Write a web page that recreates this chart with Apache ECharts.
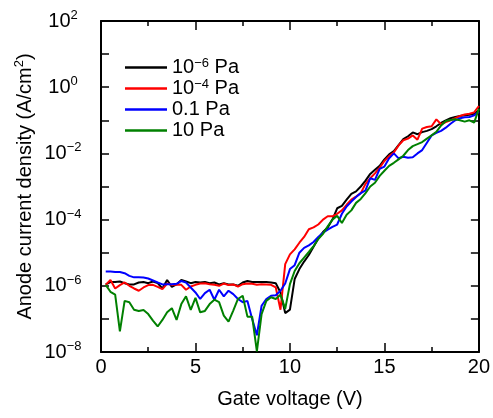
<!DOCTYPE html>
<html>
<head>
<meta charset="utf-8">
<script src="https://cdn.jsdelivr.net/npm/echarts@6/dist/echarts.min.js"></script>
<style>
  html, body { margin: 0; padding: 0; background: #fff; }
  #chart { width: 493px; height: 418px; }
</style>
</head>
<body>
<div id="chart"></div>
<script>
// gate voltage (V), shared by all curves
var voltage = [0.25, 0.5, 0.75, 1, 1.25, 1.5, 1.75, 2, 2.25, 2.5, 2.75, 3, 3.25, 3.5, 3.75, 4,
  4.25, 4.5, 4.75, 5, 5.25, 5.5, 5.75, 6, 6.25, 6.5, 6.75, 7, 7.25, 7.5, 7.75, 8,
  8.25, 8.5, 8.75, 9, 9.25, 9.5, 9.75, 10, 10.25, 10.5, 10.75, 11, 11.25, 11.5, 11.75, 12,
  12.25, 12.5, 12.75, 13, 13.25, 13.5, 13.75, 14, 14.25, 14.5, 14.75, 15, 15.25, 15.5, 15.75, 16,
  16.25, 16.5, 16.75, 17, 17.25, 17.5, 17.75, 18, 18.25, 18.5, 18.75, 19, 19.25, 19.5, 19.75, 20];

// anode current density (A/cm2)
var p1e6 = [1.1e-6, 1.3e-6, 1.3e-6, 1.35e-6, 1.2e-6, 1.1e-6, 1.1e-6, 1.26e-6, 1.3e-6, 1.2e-6, 1.35e-6, 1.2e-6, 8.3e-7, 1.5e-6, 9.3e-7, 1.1e-6,
  1.5e-6, 1.35e-6, 1.2e-6, 1.3e-6, 1.26e-6, 1.3e-6, 1.2e-6, 1.26e-6, 1.1e-6, 1.2e-6, 1.1e-6, 1.1e-6, 1.0e-6, 1.26e-6, 1.4e-6, 1.3e-6,
  1.3e-6, 1.3e-6, 1.3e-6, 1.26e-6, 1.2e-6, 6.3e-7, 1.5e-7, 1.9e-7, 1.6e-6, 3.2e-6, 5.4e-6, 8.5e-6, 1.5e-5, 2.7e-5, 4.2e-5, 5.8e-5,
  1.0e-4, 2.2e-4, 2.6e-4, 4.0e-4, 6.0e-4, 7.1e-4, 1.0e-3, 1.5e-3, 2.4e-3, 3.2e-3, 4.2e-3, 6.6e-3, 9.3e-3, 1.17e-2, 1.78e-2, 2.7e-2,
  3.3e-2, 4.3e-2, 3.8e-2, 4.4e-2, 4.8e-2, 5.4e-2, 6.6e-2, 8.3e-2, 0.1, 0.115, 0.126, 0.135, 0.141, 0.148, 0.158, 0.2];

var p1e4 = [1.07e-6, 1.5e-6, 8.3e-7, 1.05e-6, 1.26e-6, 1.0e-6, 8.3e-7, 7.1e-7, 8.9e-7, 1.05e-6, 1.07e-6, 9.3e-7, 7.9e-7, 1.17e-6, 1.07e-6, 1.1e-6,
  1.07e-6, 7.6e-7, 9.5e-7, 1.07e-6, 1.17e-6, 1.2e-6, 1.12e-6, 1.07e-6, 1.0e-6, 1.17e-6, 1.05e-6, 1.1e-6, 9.5e-7, 1.12e-6, 1.17e-6, 1.15e-6,
  1.07e-6, 1.12e-6, 1.1e-6, 1.07e-6, 8.9e-7, 1.9e-7, 4.5e-6, 8.9e-6, 1.26e-5, 2.0e-5, 3.0e-5, 5.1e-5, 5.8e-5, 7.1e-5, 1.0e-4, 1.26e-4,
  1.26e-4, 1.5e-4, 1.9e-4, 2.8e-4, 4.0e-4, 5.0e-4, 6.3e-4, 1.2e-3, 1.78e-3, 2.5e-3, 3.7e-3, 5.9e-3, 8.3e-3, 1.07e-2, 1.74e-2, 2.5e-2,
  2.8e-2, 3.5e-2, 2.6e-2, 5.6e-2, 6.3e-2, 6.6e-2, 0.107, 7.6e-2, 8.9e-2, 0.1, 0.117, 0.135, 0.15, 0.158, 0.174, 0.27];

var p01 = [2.7e-6, 2.7e-6, 2.6e-6, 2.6e-6, 2.4e-6, 2.0e-6, 1.8e-6, 1.8e-6, 1.78e-6, 1.66e-6, 1.45e-6, 1.26e-6, 1.1e-6, 1.12e-6, 1.12e-6, 1.15e-6,
  1.4e-6, 1.26e-6, 8.9e-7, 6.3e-7, 4.0e-7, 6.0e-7, 7.6e-7, 3.8e-7, 7.6e-7, 4.8e-7, 7.1e-7, 5.6e-7, 4.0e-7, 3.2e-7, 3.5e-7, 1.0e-7,
  3.2e-8, 2.5e-7, 4.0e-7, 5.0e-7, 5.2e-7, 7.1e-7, 1.17e-6, 3.2e-6, 4.2e-6, 1.0e-5, 1.4e-5, 1.66e-5, 2.1e-5, 3.0e-5, 4.0e-5, 5.0e-5,
  6.0e-5, 7.1e-5, 1.5e-4, 2.5e-4, 3.5e-4, 4.8e-4, 6.3e-4, 7.6e-4, 1.78e-3, 1.58e-3, 3.4e-3, 4.0e-3, 7.1e-3, 1.0e-2, 7.1e-3, 7.9e-3,
  7.4e-3, 7.6e-3, 1.0e-2, 1.26e-2, 2.1e-2, 3.5e-2, 4.2e-2, 4.8e-2, 6.0e-2, 7.9e-2, 0.1, 0.115, 0.123, 0.126, 0.141, 0.178];

var p10 = [1.07e-6, 6.6e-7, 5.4e-7, 4.2e-8, 3.5e-7, 3.2e-7, 1.9e-7, 1.74e-7, 1.86e-7, 1.4e-7, 8.9e-8, 5.9e-8, 9.3e-8, 1.58e-7, 2.1e-7, 9.3e-8,
  2.8e-7, 4.8e-7, 1.86e-7, 4.3e-7, 1.58e-7, 1.74e-7, 2.8e-7, 3.8e-7, 3.2e-7, 1.26e-7, 8.3e-8, 1.78e-7, 4.0e-7, 5.0e-7, 1.17e-7, 1.17e-7,
  1.05e-8, 1.4e-7, 3.5e-7, 4.5e-7, 4.0e-7, 5.4e-7, 2.0e-7, 1.12e-6, 2.8e-6, 4.8e-6, 7.1e-6, 1.05e-5, 1.58e-5, 2.6e-5, 3.7e-5, 6.3e-5,
  1.0e-4, 1.3e-4, 7.9e-5, 1.4e-4, 1.9e-4, 3.2e-4, 4.2e-4, 6.3e-4, 1.0e-3, 1.3e-3, 2.1e-3, 3.0e-3, 4.2e-3, 5.2e-3, 6.6e-3, 8.5e-3,
  1.26e-2, 1.66e-2, 1.9e-2, 2.2e-2, 2.8e-2, 3.5e-2, 4.5e-2, 7.0e-2, 9.5e-2, 0.102, 0.107, 0.1, 0.091, 0.1, 0.085, 0.224];

var names = ['10−6 Pa', '10−4 Pa', '0.1 Pa', '10 Pa'];
var colors = ['#000000', '#ff0000', '#0000ff', '#008000'];
var curves = [p1e6, p1e4, p01, p10];

var font = 'Liberation Sans, Arial, sans-serif';
var supRich = { sup: { fontSize: 13, lineHeight: 12, verticalAlign: 'top', fontFamily: font, color: '#000' } };

function pairs(vals) {
  return voltage.map(function (v, i) { return [v, vals[i]]; });
}

var series = curves.map(function (vals, i) {
  return {
    name: names[i],
    type: 'line',
    xAxisIndex: 0,
    yAxisIndex: 0,
    data: pairs(vals),
    showSymbol: false,
    symbol: 'none',
    color: colors[i],
    lineStyle: { width: 2, color: colors[i] },
    animation: false
  };
});

function xAx(top) {
  return {
    type: 'value', min: 0, max: 20, interval: 5,
    position: top ? 'top' : 'bottom',
    axisLine: { show: true, onZero: false, lineStyle: { color: '#000', width: 2 } },
    axisTick: { show: true, inside: true, length: 9, lineStyle: { color: '#000', width: 1.5 } },
    minorTick: { show: true, splitNumber: 2, length: 5, lineStyle: { color: '#000', width: 1.5 } },
    splitLine: { show: false },
    axisLabel: { show: !top, fontSize: 20, color: '#000', fontFamily: font, margin: 5 },
    name: top ? '' : 'Gate voltage (V)',
    nameLocation: 'middle',
    nameGap: 37,
    nameMoveOverlap: false,
    nameTextStyle: { fontSize: 20, color: '#000', fontFamily: font }
  };
}

function yAx(right) {
  return {
    type: 'log', logBase: 10, min: 1e-8, max: 100, interval: 1, splitNumber: 10,
    position: right ? 'right' : 'left',
    axisLine: { show: true, onZero: false, lineStyle: { color: '#000', width: 2 } },
    axisTick: { show: true, inside: true, length: 8, lineStyle: { color: '#000', width: 1.5 } },
    splitLine: { show: false },
    axisLabel: {
      show: !right, fontSize: 20, color: '#000', fontFamily: font, margin: 38, align: 'center',
      lineHeight: 24, rich: supRich,
      formatter: function (v) {
        var e = Math.round(Math.log10(v));
        if (e % 2 !== 0) return '';
        return '10{sup|' + (e < 0 ? '−' : '') + Math.abs(e) + '}';
      }
    },
    name: right ? '' : 'Anode current density (A/cm{sup|2})',
    nameLocation: 'middle',
    nameGap: 64,
    nameMoveOverlap: false,
    nameTextStyle: { fontSize: 20, color: '#000', fontFamily: font, lineHeight: 24, rich: supRich }
  };
}

var chart = echarts.init(document.getElementById('chart'), null, { renderer: 'canvas' });
chart.setOption({
  backgroundColor: '#fff',
  animation: false,
  textStyle: { fontFamily: font },
  grid: { left: 101, right: 12, top: 21, bottom: 66 },
  legend: {
    data: names,
    orient: 'vertical',
    left: 120, top: 52,
    itemGap: 0, itemWidth: 42, itemHeight: 2.5,
    icon: 'rect',
    textStyle: { fontSize: 20, color: '#000', fontFamily: font, lineHeight: 21, rich: supRich },
    formatter: function (n) { return n.replace(/^10(−\d+)/, '10{sup|$1}'); }
  },
  xAxis: [xAx(false), xAx(true)],
  yAxis: [yAx(false), yAx(true)],
  series: series
});
</script>
</body>
</html>
